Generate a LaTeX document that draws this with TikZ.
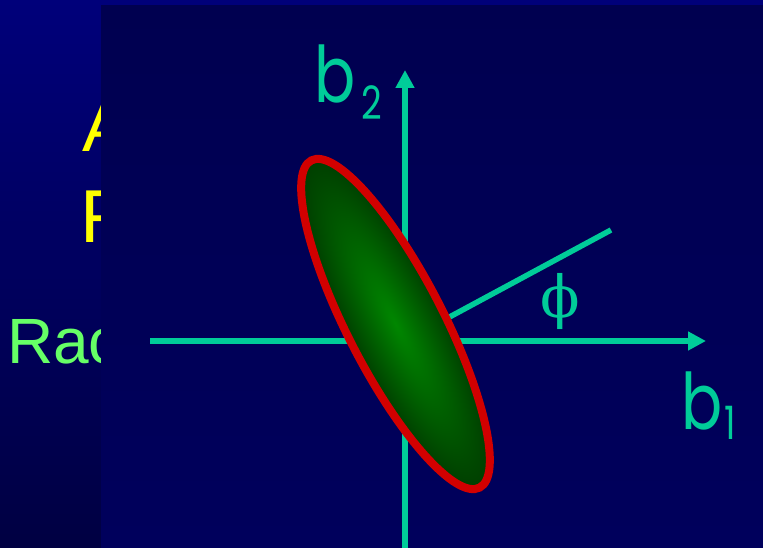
\documentclass[tikz,border=0pt]{standalone}
\usepackage{fontspec}
\setmainfont{Liberation Sans}
\newfontfamily\labelfont[FakeStretch=0.78]{Poppins}
\newfontfamily\phifont{DejaVu Serif}
\usetikzlibrary{arrows.meta}
\definecolor{SlideTop}{RGB}{0,0,122}
\definecolor{SlideBottom}{RGB}{0,0,66}
\definecolor{PanelTop}{RGB}{0,0,80}
\definecolor{PanelBottom}{RGB}{0,0,92}
\definecolor{AxisTeal}{RGB}{0,204,153}
\definecolor{TitleYellow}{RGB}{255,255,0}
\definecolor{TextGreen}{RGB}{102,255,102}
\definecolor{CoreGreen}{RGB}{0,134,0}
\definecolor{RimGreen}{RGB}{0,62,0}
\definecolor{RimRed}{RGB}{210,0,0}

\begin{document}
\begin{tikzpicture}[x=1pt,y=1pt,
    axis/.style={draw=AxisTeal,line width=5.5pt},
    axisarrow/.style={axis,-{Triangle[length=18pt,width=18pt]}},
    slidetext/.style={inner sep=0pt,anchor=base west},
    blabel/.style={inner sep=0pt,anchor=base west,text=AxisTeal,font=\labelfont\fontsize{78}{78}\selectfont},
    bsub/.style={inner sep=0pt,anchor=base west,text=AxisTeal,font=\labelfont\fontsize{46}{46}\selectfont}]
  \useasboundingbox (0,0) rectangle (763,548);
  \shade[top color=SlideTop,bottom color=SlideBottom] (0,0) rectangle (763,548);

  \node[slidetext,text=TitleYellow,font=\fontsize{71}{71}\selectfont] (titleA) at (82,396) {A};
  \node[slidetext,text=TitleYellow,font=\fontsize{75}{75}\selectfont] (titleF) at (80.5,305) {F};
  \node[slidetext,text=TextGreen,font=\fontsize{64}{64}\selectfont] (radtext) at (7,184) {Rac};

  \shade[top color=PanelTop,bottom color=PanelBottom] (101,0) rectangle (763,542);

  \coordinate (origin) at (405,207);
  \coordinate (xstart) at (150,207);
  \coordinate (xend) at (706,207);
  \coordinate (ybottom) at (405,0);
  \coordinate (ytop) at (405,478);
  \coordinate (dirend) at (611,318);
  \draw[axisarrow] (xstart) -- (xend);
  \draw[axisarrow] (ybottom) -- (ytop);
  \draw[axis] (origin) -- (dirend);

  \begin{scope}[transform canvas={shift={(395.5,224)},rotate=-62.8}]
    \shade[draw=RimRed,line width=8pt,inner color=CoreGreen,outer color=RimGreen]
      (0,0) ellipse [x radius=184,y radius=48];
  \end{scope}

  \node[inner sep=0pt,text=AxisTeal,font=\phifont\fontsize{58}{58}\selectfont] (phi) at (560,246) {ϕ};

  \node[blabel] (btwo) at (314,445) {b};
  \node[bsub] (btwosub) at (361,428) {2};
  \node[blabel] (bone) at (681,118) {b};
  \node[bsub] (bonesub) at (724,108) {1};
\end{tikzpicture}
\end{document}
